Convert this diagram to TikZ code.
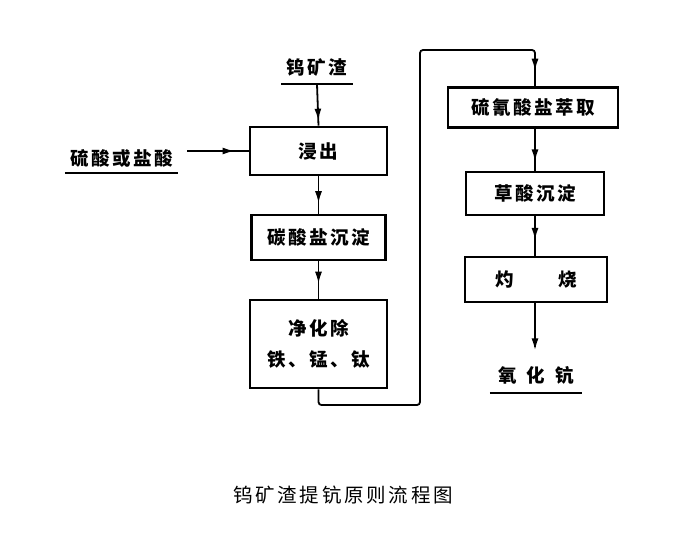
\documentclass[tikz,border=0pt]{standalone}
\usepackage{fontspec}
\setmainfont{Noto Sans CJK SC}[LetterSpace=14]
\usetikzlibrary{positioning,arrows.meta,decorations.markings}

\tikzset{
  stepbox/.style={draw, line width=2.6pt, inner sep=0pt, font=\fontsize{18.5}{31}\selectfont\bfseries, align=center},
  flow/.style={line width=1.8pt},
  midarrow/.style={postaction={decorate}, decoration={markings, mark=at position #1 with {\arrow{Latex[length=12pt,width=7pt]}}}},
  stuff/.style={inner sep=0pt, font=\fontsize{18.5}{20}\selectfont\bfseries}
}

\begin{document}
\begin{tikzpicture}[x=1pt, y=-1pt]
  \useasboundingbox (0,0) rectangle (689,538);
  % inputs
  \node [stuff, minimum width=71pt, minimum height=32pt] (ore) at (317,68) {钨矿渣};
  \node [stuff, minimum width=113pt, minimum height=30pt] (acid) at (121.5,158) {硫酸或盐酸};
  % left column
  \node [stepbox, minimum width=137pt, minimum height=48pt] (leach) at (318.5,151) {浸出};
  \node [stepbox, minimum width=134pt, minimum height=45pt] (carb) at (318.5,237.5) {碳酸盐沉淀};
  \node [stepbox, minimum width=137pt, minimum height=88pt] (purify) at (318.5,344) {净化除\\铁、锰、钛};
  % right column
  \node [stepbox, minimum width=170pt, minimum height=40pt] (extract) at (533,107.5) {硫氰酸盐萃取};
  \node [stepbox, minimum width=138pt, minimum height=43pt] (oxal) at (535,193.5) {草酸沉淀};
  \node [stepbox, minimum width=142pt, minimum height=45pt] (roast) at (536,279.5) {灼\hspace{45pt}烧};
  \node [stuff, minimum width=92pt, minimum height=36pt] (oxide) at (536,375) {氧\hspace{10pt}化\hspace{10pt}钪};
  \node [font=\fontsize{19.5}{20}\selectfont] (title) at (343,495) {钨矿渣提钪原则流程图};

  \draw [line width=1.6pt] (ore.south west) -- (ore.south east);
  \draw [line width=1.6pt] (acid.south west) -- (acid.south east);
  \draw [line width=1.6pt] (oxide.south west) -- (oxide.south east);

  \draw [flow, midarrow=0.88] (ore.south) -- (leach.north);
  \draw [flow, midarrow=0.8, shorten <=9pt] (acid.east |- leach.west) -- (leach.west);
  \draw [flow, midarrow=0.72] (leach.south) -- (carb.north);
  \draw [flow, midarrow=0.6] (carb.south) -- (purify.north);
  \draw [flow, rounded corners=3pt, midarrow=0.975] (purify.south) |- (420,405) |- (535,50) -- (extract.north -| 535,0);
  \draw [flow, midarrow=0.78] (extract.south -| oxal.north) -- (oxal.north);
  \draw [flow, midarrow=0.6] (oxal.south) -- (roast.north -| oxal.south);
  \draw [flow, midarrow=0.88, shorten >=10pt] (roast.south -| oxal.south) -- (oxide.north -| oxal.south);
\end{tikzpicture}
\end{document}
